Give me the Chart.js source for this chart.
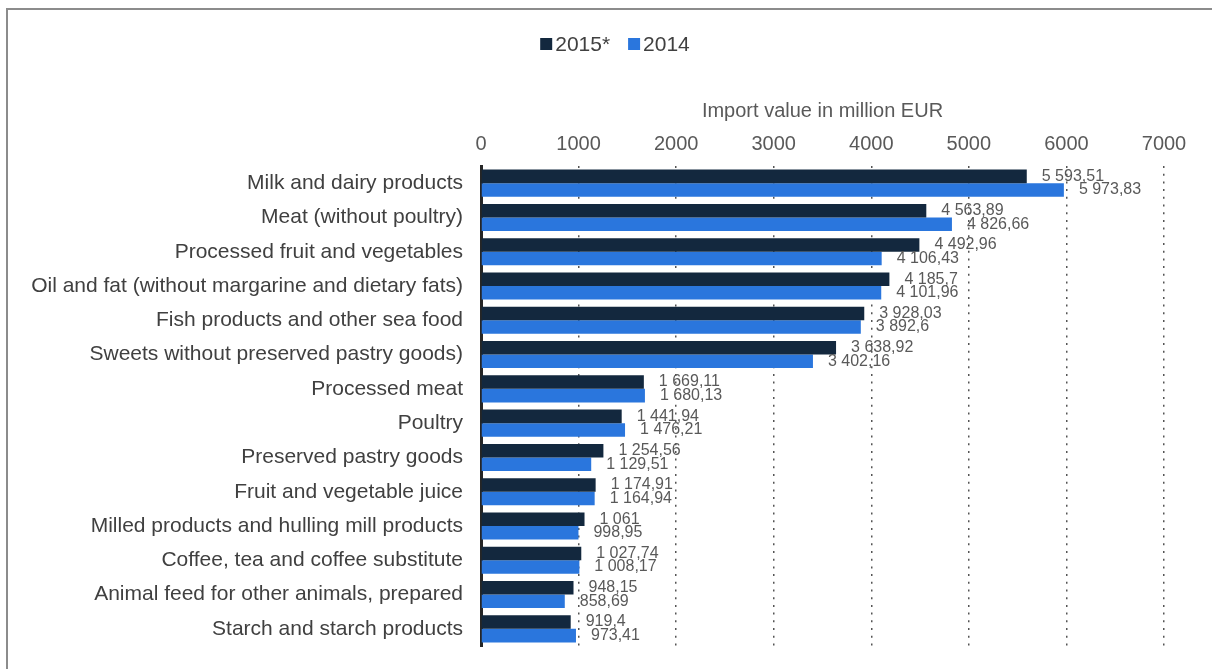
<!DOCTYPE html>
<html>
<head>
<meta charset="utf-8">
<script src="https://cdn.jsdelivr.net/npm/chart.js@4/dist/chart.umd.min.js"></script>
<style>
  html, body { margin: 0; padding: 0; background: #fff; }
  #wrap { position: relative; width: 1212px; height: 669px; overflow: hidden; }
  #frame { position: absolute; left: 6px; top: 8px; width: 1300px; height: 800px;
           border-left: 2px solid #8c8c8c; border-top: 2px solid #8c8c8c; box-sizing: border-box; pointer-events: none; }
  canvas { position: absolute; left: 0; top: 0; }
</style>
</head>
<body>
<div id="wrap">
  <canvas id="c" width="1212" height="669"></canvas>
  <div id="frame"></div>
</div>
<script>
const categories = [
  "Milk and dairy products",
  "Meat (without poultry)",
  "Processed fruit and vegetables",
  "Oil and fat (without margarine and dietary fats)",
  "Fish products and other sea food",
  "Sweets without preserved pastry goods)",
  "Processed meat",
  "Poultry",
  "Preserved pastry goods",
  "Fruit and vegetable juice",
  "Milled products and hulling mill products",
  "Coffee, tea and coffee substitute",
  "Animal feed for other animals, prepared",
  "Starch and starch products"
];
const values2015 = [5593.51, 4563.89, 4492.96, 4185.7, 3928.03, 3638.92, 1669.11, 1441.94, 1254.56, 1174.91, 1061, 1027.74, 948.15, 919.4];
const values2014 = [5973.83, 4826.66, 4106.43, 4101.96, 3892.6, 3402.16, 1680.13, 1476.21, 1129.51, 1164.94, 998.95, 1008.17, 858.69, 973.41];
const seriesLabels = ["2015*", "2014"];
const seriesColors = ["#13283e", "#2a76dd"];
const xTicks = [0, 1000, 2000, 3000, 4000, 5000, 6000, 7000];
const axisTitle = "Import value in million EUR";

const FONT = "'Liberation Sans', Arial, sans-serif";

function fmt(v) {
  const s = String(v);
  const parts = s.split(".");
  const intPart = parts[0].replace(/\B(?=(\d{3})+(?!\d))/g, " ");
  return parts.length > 1 ? intPart + "," + parts[1] : intPart;
}

const labelPlugin = {
  id: "barLabels",
  afterDatasetsDraw(chart) {
    const ctx = chart.ctx;
    ctx.save();
    ctx.font = "16px " + FONT;
    ctx.fillStyle = "#595959";
    ctx.textAlign = "left";
    ctx.textBaseline = "middle";
    chart.data.datasets.forEach((ds, di) => {
      const meta = chart.getDatasetMeta(di);
      meta.data.forEach((el, i) => {
        ctx.fillText(fmt(ds.data[i]), el.x + 15, el.y);
      });
    });
    ctx.restore();
  }
};

// Compact legend (box, small gap, text) centred like the reference
const legendPlugin = {
  id: "compactLegend",
  afterDraw(chart) {
    const ctx = chart.ctx;
    ctx.save();
    ctx.font = "21px " + FONT;
    ctx.textBaseline = "middle";
    ctx.textAlign = "left";
    const box = 12, gap = 3, spacing = 18;
    const items = chart.data.datasets.map(d => ({ text: d.label, color: d.backgroundColor, w: ctx.measureText(d.label).width }));
    const total = items.reduce((s, it) => s + box + gap + it.w, 0) + spacing * (items.length - 1);
    const cy = 44;
    let x = 615 - total / 2;
    items.forEach(it => {
      ctx.fillStyle = it.color;
      ctx.fillRect(x, cy - box / 2, box, box);
      x += box + gap;
      ctx.fillStyle = "#404040";
      ctx.fillText(it.text, x, cy + 1);
      x += it.w + spacing;
    });
    ctx.restore();
  }
};

new Chart(document.getElementById("c"), {
  type: "bar",
  data: {
    labels: categories,
    datasets: [
      { label: seriesLabels[0], data: values2015, backgroundColor: seriesColors[0], categoryPercentage: 0.79, barPercentage: 1 },
      { label: seriesLabels[1], data: values2014, backgroundColor: seriesColors[1], categoryPercentage: 0.79, barPercentage: 1 }
    ]
  },
  options: {
    indexAxis: "y",
    responsive: false,
    animation: false,
    layout: { padding: { top: 99, right: 48, left: 0, bottom: 23 } },
    plugins: {
      legend: { display: false },
      tooltip: { enabled: false }
    },
    scales: {
      x: {
        position: "top",
        min: 0, max: 7000,
        afterBuildTicks(scale) { scale.ticks = xTicks.map(v => ({ value: v })); },
        ticks: { color: "#595959", font: { family: FONT, size: 20 }, padding: 10, callback: v => String(v) },
        grid: { color: "#555555", lineWidth: 1.5, drawTicks: false },
        border: { display: false, dash: [2, 5.7] },
        title: { display: true, text: axisTitle, color: "#595959", font: { family: FONT, size: 20 }, padding: { top: 0, bottom: -1 } }
      },
      y: {
        afterFit(scale) { scale.width = 481; scale.paddingTop = 0; scale.paddingBottom = 0; },
        ticks: { color: "#404040", font: { family: FONT, size: 21 }, padding: 18 },
        grid: { display: false, drawTicks: false },
        border: { display: true, color: "#262626", width: 3 }
      }
    }
  },
  plugins: [labelPlugin, legendPlugin]
});
</script>
</body>
</html>
